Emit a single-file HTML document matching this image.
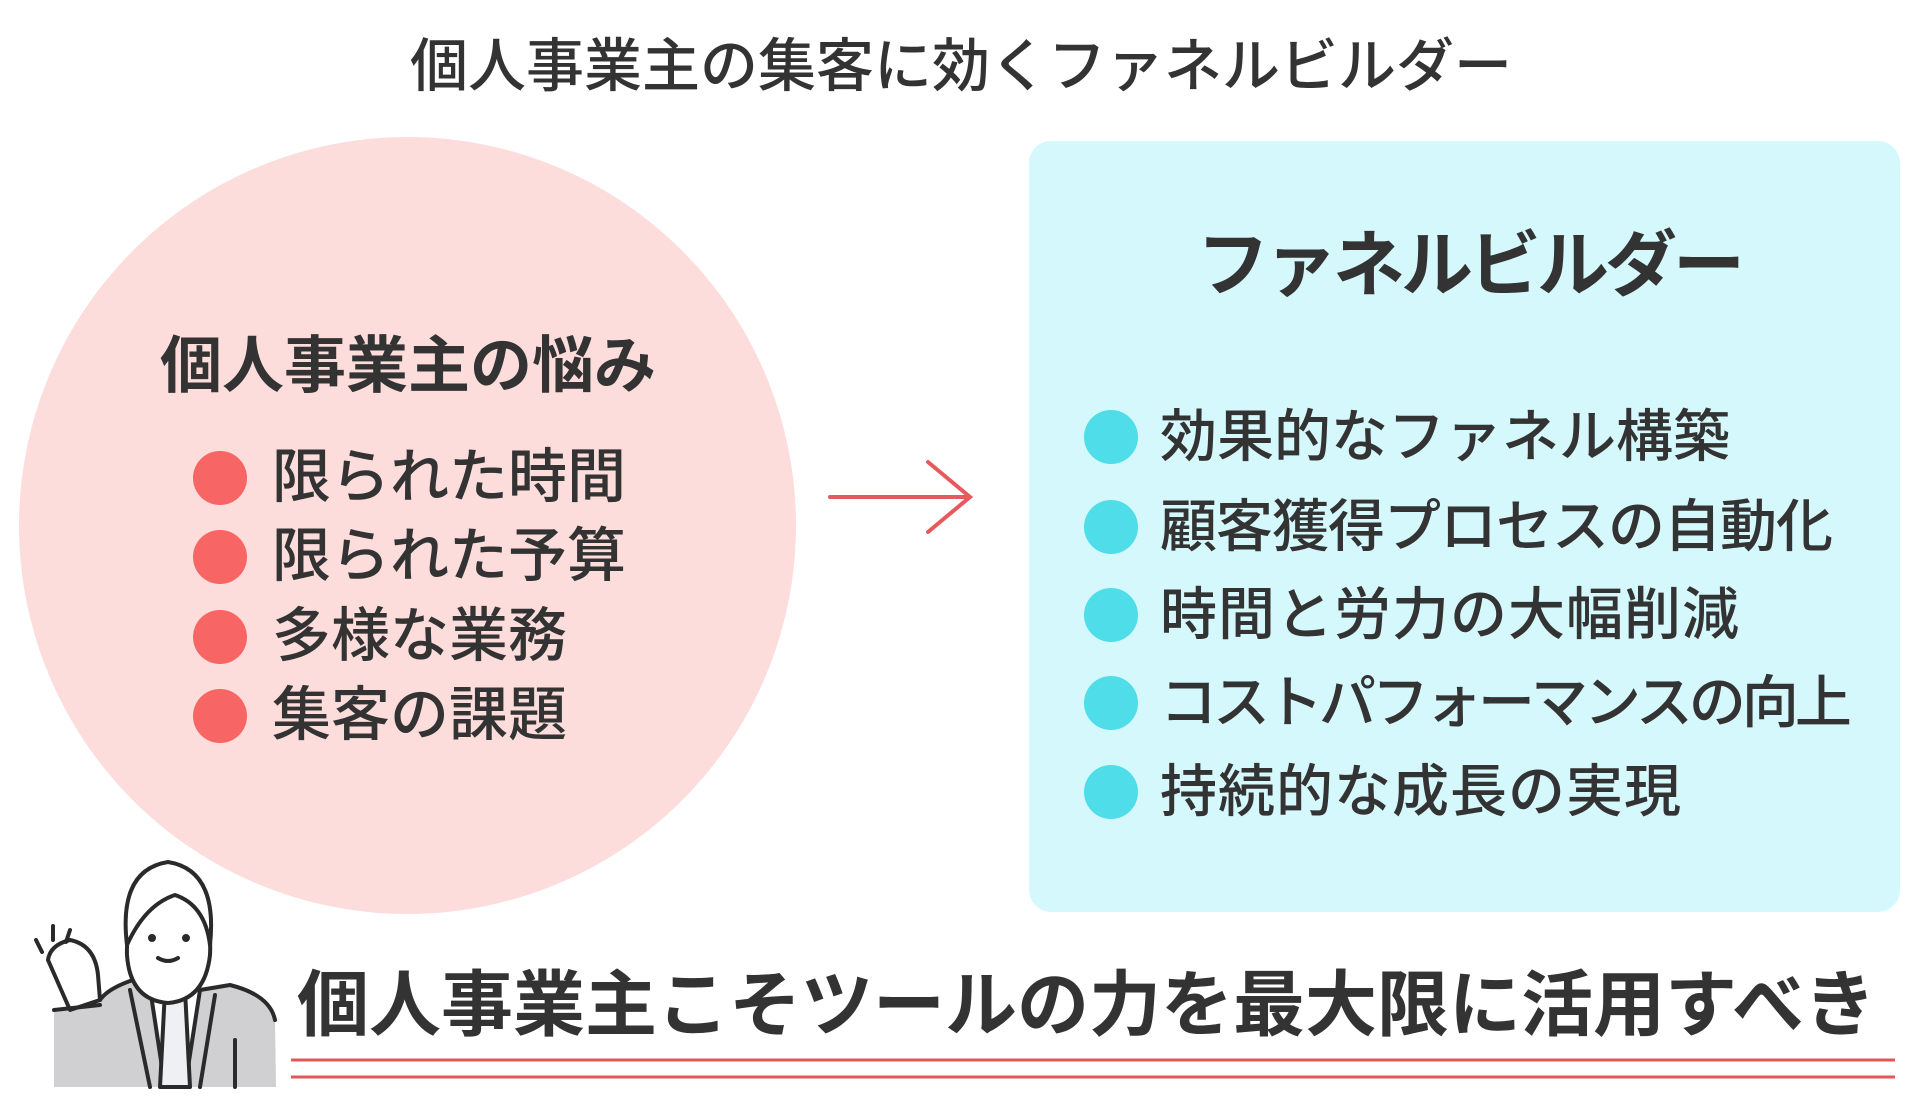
<!DOCTYPE html>
<html><head><meta charset="utf-8"><style>
body{margin:0;width:1920px;height:1119px;background:#fff;position:relative;overflow:hidden;font-family:"Liberation Sans","Noto Sans CJK JP",sans-serif;color:#333}
.a{position:absolute;white-space:nowrap;line-height:1}
.dot{position:absolute;border-radius:50%}
</style></head><body>
<div class="a" style="left:0;width:1922px;text-align:center;top:38px;font-size:58px;font-weight:500">個人事業主の集客に効くファネルビルダー</div>
<div style="position:absolute;left:19px;top:137px;width:777px;height:777px;border-radius:50%;background:#fddcdc"></div>
<div class="a" style="left:160px;top:336px;font-size:62px;font-weight:bold">個人事業主の悩み</div>
<div class="dot" style="left:193px;top:451px;width:54px;height:54px;background:#f86565"></div>
<div class="dot" style="left:193px;top:530px;width:54px;height:54px;background:#f86565"></div>
<div class="dot" style="left:193px;top:610px;width:54px;height:54px;background:#f86565"></div>
<div class="dot" style="left:193px;top:689px;width:54px;height:54px;background:#f86565"></div>
<div class="a" style="left:272px;top:448px;font-size:59px;font-weight:500">限られた時間</div>
<div class="a" style="left:272px;top:527px;font-size:59px;font-weight:500">限られた予算</div>
<div class="a" style="left:272px;top:607px;font-size:59px;font-weight:500">多様な業務</div>
<div class="a" style="left:272px;top:686px;font-size:59px;font-weight:500">集客の課題</div>
<svg style="position:absolute;left:0;top:0" width="1920" height="1119">
<g stroke="#e65a5e" stroke-width="4" fill="none" stroke-linecap="round"><line x1="830" y1="497" x2="968" y2="497"/><polyline points="928,462 970,497 928,532"/></g>
<line x1="291" y1="1060" x2="1895" y2="1060" stroke="#e05858" stroke-width="3"/>
<line x1="291" y1="1077" x2="1895" y2="1077" stroke="#e05858" stroke-width="3"/>
<g stroke="#2a2a2a" stroke-width="4" fill="none" stroke-linecap="round" stroke-linejoin="round">
<path d="M54,1087 L54,1010 L100,1000 Q110,985 150,975 L200,990 L230,985 Q270,995 275,1020 L276,1087 Z" fill="#d0d0d2" stroke="none"/>
<path d="M100,1000 Q110,985 150,975 M200,990 L230,985 Q270,995 275,1020"/>
<path d="M148,975 L165,1087 L185,1087 L200,990 Z" fill="#fff"/>
<path d="M165,990 L175,1000 L185,990 L190,1087 L160,1087 Z" fill="#eef0f4"/>
<path d="M130,990 L150,1087 M215,995 L200,1087 M235,1040 L235,1087"/>
<path d="M127,955 Q125,900 170,885 Q213,900 210,955 Q205,1000 168,1003 Q130,1000 127,955 Z" fill="#fff"/>
<path d="M127,945 Q118,870 168,862 Q218,870 210,945 Q205,905 175,895 Q145,905 127,945 Z" fill="#fff"/>
<circle cx="152" cy="938" r="2"/><circle cx="186" cy="938" r="2"/><path d="M158,958 Q168,964 178,958"/>
<path d="M70,1010 L48,960 Q50,945 70,940 Q95,945 98,975 L100,1000 Z" fill="#fff"/>
<path d="M54,1010 L100,1005"/>
<path d="M36,940 L42,952 M53,926 L53,940 M70,930 L66,942"/>
</g>
</svg>
<div style="position:absolute;left:1029px;top:141px;width:871px;height:771px;border-radius:22px;background:#d5f8fc"></div>
<div class="a" style="left:1197px;top:230px;font-size:72px;font-weight:bold;letter-spacing:-4px">ファネルビルダー</div>
<div class="dot" style="left:1084px;top:410px;width:54px;height:54px;background:#4fdde9"></div>
<div class="dot" style="left:1084px;top:500px;width:54px;height:54px;background:#4fdde9"></div>
<div class="dot" style="left:1084px;top:588px;width:54px;height:54px;background:#4fdde9"></div>
<div class="dot" style="left:1084px;top:676px;width:54px;height:54px;background:#4fdde9"></div>
<div class="dot" style="left:1084px;top:765px;width:54px;height:54px;background:#4fdde9"></div>
<div class="a" style="left:1160px;top:409px;font-size:57px;font-weight:500">効果的なファネル構築</div>
<div class="a" style="left:1160px;top:499px;font-size:57px;font-weight:500;letter-spacing:-1px">顧客獲得プロセスの自動化</div>
<div class="a" style="left:1160px;top:587px;font-size:57px;font-weight:500;letter-spacing:1px">時間と労力の大幅削減</div>
<div class="a" style="left:1160px;top:675px;font-size:57px;font-weight:500;letter-spacing:-4px">コストパフォーマンスの向上</div>
<div class="a" style="left:1160px;top:764px;font-size:57px;font-weight:500;letter-spacing:1px">持続的な成長の実現</div>
<div class="a" style="left:297px;top:970px;font-size:72px;font-weight:bold">個人事業主こそツールの力を最大限に活用すべき</div>
</body></html>
